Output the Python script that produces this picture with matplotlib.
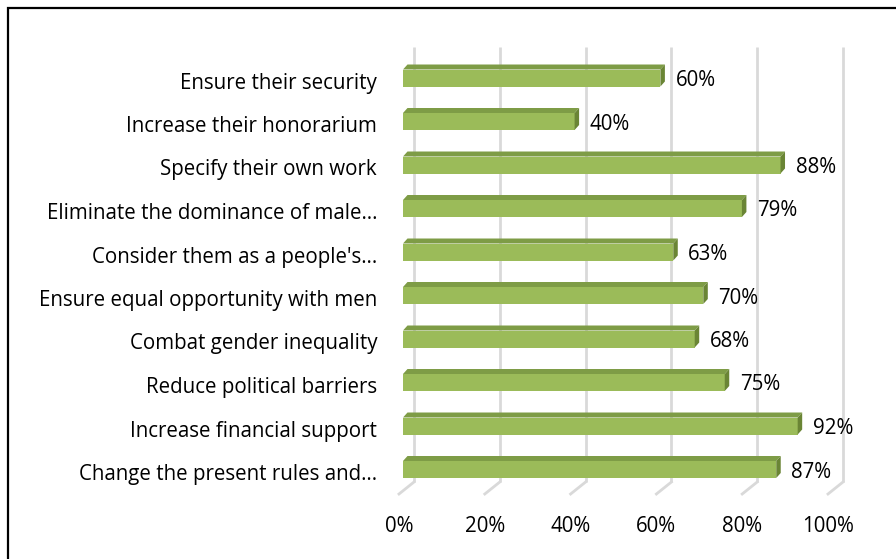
import matplotlib
matplotlib.use("Agg")
import matplotlib.pyplot as plt
from matplotlib.patches import Polygon, Rectangle
from matplotlib.transforms import ScaledTranslation, offset_copy
import numpy as np

categories = [
    "Ensure their security",
    "Increase their honorarium",
    "Specify their own work",
    "Eliminate the dominance of male\u2026",
    "Consider them as a people's\u2026",
    "Ensure equal opportunity with men",
    "Combat gender inequality",
    "Reduce political barriers",
    "Increase financial support",
    "Change the present rules and\u2026",
]
values = [60, 40, 88, 79, 63, 70, 68, 75, 92, 87]
tick_values = [0, 20, 40, 60, 80, 100]
tick_labels = ["0%", "20%", "40%", "60%", "80%", "100%"]

plt.rcParams["font.family"] = ["Open Sans", "DejaVu Sans"]
FS = 14.8

W, H = 896, 559
fig = plt.figure(figsize=(W / 100, H / 100), dpi=100)

# outer border
fig.patches.append(Rectangle((8 / W, -0.1), 1.2, (H - 8) / H + 0.1, transform=fig.transFigure,
                             fill=False, edgecolor="black", linewidth=1.6))

x0, x1 = 403, 832
ytop, ybot = 47, 482
ax = fig.add_axes([x0 / W, 1 - ybot / H, (x1 - x0) / W, (ybot - ytop) / H])
ax.set_xlim(0, 100)
n = len(categories)
step = 43.5
first = 78
ax.set_ylim((ybot - first) / step, (ytop - first) / step)
ax.axis("off")

# depth offsets (pixels)
d = np.array([4.5, 5.0])
back = ScaledTranslation(11 / 100, 0, fig.dpi_scale_trans)
grid_tr = ax.transData + back

# gridlines (back wall) + floor diagonals
for t in tick_values:
    ax.plot([t, t], [(ybot - first) / step, (ytop - first) / step], color="#D9D9D9", lw=2,
            transform=grid_tr, clip_on=False, zorder=0, solid_capstyle="butt")
    start = ax.transData.transform((t, (ybot - first) / step)) + np.array([11, 0])
    end = start + np.array([-15, -12])
    inv = fig.transFigure.inverted()
    p = inv.transform([start, end])
    fig.add_artist(plt.Line2D(p[:, 0], p[:, 1], color="#D9D9D9", lw=2, transform=fig.transFigure))

ypos = np.arange(n)
bh = 17 / step
front = "#9BBB59"
top_c = "#7E9C46"
side_c = "#6A8535"

ax.barh(ypos, values, height=bh, color=front, zorder=3, edgecolor="none")

for y, v in zip(ypos, values):
    tl = ax.transData.transform((0, y - bh / 2))
    tr = ax.transData.transform((v, y - bh / 2))
    br = ax.transData.transform((v, y + bh / 2))
    inv = ax.transData.inverted()
    top = [tl, tr, tr + d, tl + d]
    side = [tr, br, br + d, tr + d]
    ax.add_patch(Polygon(inv.transform(top), closed=True, color=top_c, zorder=3, lw=0, clip_on=False))
    ax.add_patch(Polygon(inv.transform(side), closed=True, color=side_c, zorder=3, lw=0, clip_on=False))
    ax.text(v, y, f"{v}%", transform=offset_copy(ax.transData, fig=fig, x=15, y=-8, units="dots"),
            ha="left", va="baseline", fontsize=FS, color="black")
    ax.text(0, y, categories[y], transform=offset_copy(ax.transData, fig=fig, x=-26, y=-10.5, units="dots"),
            ha="right", va="baseline", fontsize=FS, color="black")

for t, lab in zip(tick_values, tick_labels):
    ax.text(t, (ybot - first) / step, lab,
            transform=offset_copy(ax.transData, fig=fig, x=-4, y=-50, units="dots"),
            ha="center", va="baseline", fontsize=FS, color="black")

fig.savefig("out.png", dpi=100)
